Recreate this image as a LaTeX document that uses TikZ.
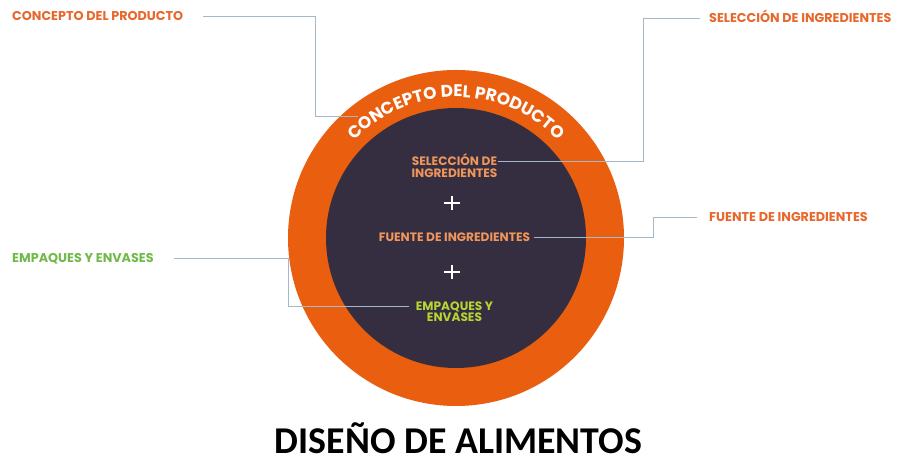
\documentclass[tikz,border=0pt]{standalone}
\usepackage{fontspec}
\newfontfamily\pop{Poppins}
\newfontfamily\carl{Carlito}
\usetikzlibrary{decorations.text,calc}
\definecolor{ringor}{HTML}{E95E0F}
\definecolor{darkin}{HTML}{342E40}
\definecolor{labor}{HTML}{E8672B}
\definecolor{labgr}{HTML}{72B94B}
\definecolor{inor}{HTML}{F0955B}
\definecolor{ingr}{HTML}{B7D432}
\definecolor{leadc}{HTML}{A3B8C8}
\begin{document}
\begin{tikzpicture}[x=1bp,y=1bp,
  lab/.style={inner sep=0pt,text height=9bp,text depth=0pt,font=\pop\bfseries\fontsize{12.8}{14}\selectfont},
  inlab/.style={inner sep=0pt,text height=8.5bp,text depth=0pt,font=\pop\bfseries\fontsize{12.2}{13}\selectfont},
  leader/.style={draw=leadc,line width=0.9bp},
  plus/.style={draw=white,line width=1.3bp}]
\useasboundingbox (0,0) rectangle (909,462);
\fill[white] (0,0) rectangle (909,462);
% circles
\fill[ringor] (456,224) circle[radius=168];
\fill[darkin] (456,224) circle[radius=130];
% ring text
\path[decorate,decoration={text along path,text color=white,text align=center,
  text={|\pop\bfseries\fontsize{17}{17}\selectfont|CONCEPTO DEL PRODUCTO}}]
  (456,224) ++(140:141) arc[start angle=140,end angle=40,radius=141];
% outer labels
\node[lab,text=labor,anchor=west] (conco) at (12,445.5) {CONCEPTO DEL PRODUCTO};
\node[lab,text=labor,anchor=west] (selo) at (709,444) {SELECCIÓN DE INGREDIENTES};
\node[lab,text=labor,anchor=west] (fueo) at (709,245) {FUENTE DE INGREDIENTES};
\node[lab,text=labgr,anchor=west] (empo) at (12,204) {EMPAQUES Y ENVASES};
% inner labels
\node[inlab,text=inor] (seli1) at (454.5,300.5) {SELECCIÓN DE};
\node[inlab,text=inor] (seli2) at (454.5,288.5) {INGREDIENTES};
\node[inlab,text=inor] (fuei) at (454.5,224.5) {FUENTE DE INGREDIENTES};
\node[inlab,text=ingr] (empi1) at (454.5,155.5) {EMPAQUES Y};
\node[inlab,text=ingr] (empi2) at (454.5,144.5) {ENVASES};
% plus signs
\coordinate (p1) at (452,259);
\coordinate (p2) at (452,190);
\draw[plus] ($(p1)+(-8,0)$) -- ($(p1)+(8,0)$) ($(p1)+(0,-7)$) -- ($(p1)+(0,7)$);
\draw[plus] ($(p2)+(-8,0)$) -- ($(p2)+(8,0)$) ($(p2)+(0,-7)$) -- ($(p2)+(0,7)$);
% title
\node[inner sep=0pt,anchor=base,font=\carl\bfseries\fontsize{38}{38}\selectfont] (title) at (458.5,8) {DISEÑO DE ALIMENTOS};
% leaders
\coordinate (cend) at (358,346);
\coordinate (vx1) at (315,0);
\coordinate (vx2) at (643,0);
\coordinate (vx3) at (653,0);
\coordinate (vx4) at (288,0);
\draw[leader] ([xshift=20bp]conco.east) -| (vx1 |- cend) -- (cend);
\draw[leader] ([xshift=-9bp]selo.west) -| (vx2 |- seli1.east) -- ([xshift=1bp]seli1.east);
\draw[leader] ([xshift=-12bp]fueo.west) -| (vx3 |- fuei.east) -- ([xshift=4bp]fuei.east);
\draw[leader] ([xshift=20bp]empo.east) -| (vx4 |- empi1.west) -- ([xshift=-7bp]empi1.west);
\end{tikzpicture}
\end{document}
